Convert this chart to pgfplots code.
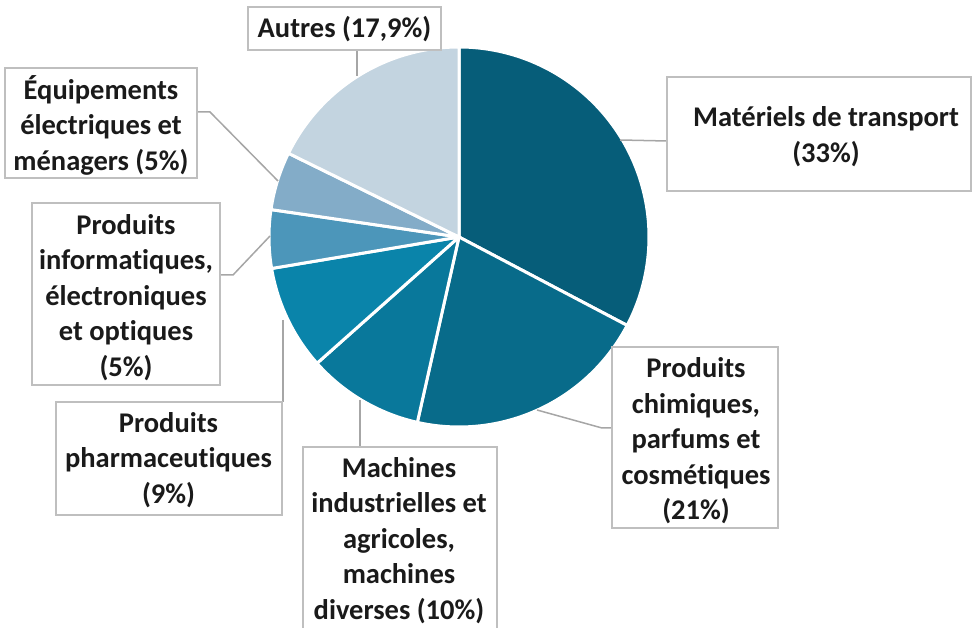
\documentclass[border=0pt]{standalone}
\usepackage{pgfplots}
\pgfplotsset{compat=1.18}
\usepackage{pgfplotstable}
\usepackage{fontspec}
\setmainfont{Carlito}[Ligatures={NoCommon,NoContextual}]
\definecolor{cA}{HTML}{065D79}
\definecolor{cB}{HTML}{086B8A}
\definecolor{cC}{HTML}{09789B}
\definecolor{cD}{HTML}{0A84AA}
\definecolor{cE}{HTML}{4C96BA}
\definecolor{cF}{HTML}{83ACC8}
\definecolor{cG}{HTML}{C3D4E0}
\definecolor{boxgray}{HTML}{BFBFBF}
\definecolor{leadgray}{HTML}{A6A6A6}
\definecolor{txt}{HTML}{1A1A1A}

\pgfplotstableread{
share
33
21
10
9
5
5
17.9
}\sharetable

\newcommand\getv[2]{\pgfplotstablegetelem{#1}{share}\of\sharetable\pgfmathsetmacro#2{\pgfplotsretval}}

\begin{document}
\begin{tikzpicture}
\getv{0}\vA \getv{1}\vB \getv{2}\vC \getv{3}\vD \getv{4}\vE \getv{5}\vF \getv{6}\vG
\pgfmathsetmacro\tot{\vA+\vB+\vC+\vD+\vE+\vF+\vG}
\pgfmathsetmacro\aA{90}
\pgfmathsetmacro\aB{\aA-360*\vA/\tot}
\pgfmathsetmacro\aC{\aB-360*\vB/\tot}
\pgfmathsetmacro\aD{\aC-360*\vC/\tot}
\pgfmathsetmacro\aE{\aD-360*\vD/\tot}
\pgfmathsetmacro\aF{\aE-360*\vE/\tot}
\pgfmathsetmacro\aG{\aF-360*\vF/\tot}
\pgfmathsetmacro\aH{\aG-360*\vG/\tot}
\begin{axis}[x=1pt, y=1pt, xmin=0, xmax=972, ymin=0, ymax=627,
  scale only axis, hide axis, clip=false,
  every axis plot/.append style={draw=white, line width=3pt, line join=round, samples=80, variable=\t, mark=none}]
\addplot[fill=cA, domain=\aB:\aA] ({459+190*cos(\t)},{390+190*sin(\t)}) -- (459,390) -- cycle;
\addplot[fill=cB, domain=\aC:\aB] ({459+190*cos(\t)},{390+190*sin(\t)}) -- (459,390) -- cycle;
\addplot[fill=cC, domain=\aD:\aC] ({459+190*cos(\t)},{390+190*sin(\t)}) -- (459,390) -- cycle;
\addplot[fill=cD, domain=\aE:\aD] ({459+190*cos(\t)},{390+190*sin(\t)}) -- (459,390) -- cycle;
\addplot[fill=cE, domain=\aF:\aE] ({459+190*cos(\t)},{390+190*sin(\t)}) -- (459,390) -- cycle;
\addplot[fill=cF, domain=\aG:\aF] ({459+190*cos(\t)},{390+190*sin(\t)}) -- (459,390) -- cycle;
\addplot[fill=cG, domain=\aH:\aG] ({459+190*cos(\t)},{390+190*sin(\t)}) -- (459,390) -- cycle;

% leader lines
\draw[leadgray, line width=1.5pt] (357,577) -- (357,551);
\draw[leadgray, line width=1.5pt] (620,487) -- (667,486);
\draw[leadgray, line width=1.5pt] (537,217) -- (602,199) -- (612,199);
\draw[leadgray, line width=1.5pt] (360,227) -- (360,180);
\draw[leadgray, line width=1.5pt] (283,307) -- (283,225);
\draw[leadgray, line width=1.5pt] (270,391) -- (233,352) -- (220,352);
\draw[leadgray, line width=1.5pt] (278,446) -- (210,515) -- (197,515);

% boxes
\draw[boxgray, line width=1.8pt, fill=white] (248,577) rectangle (441,620);
\draw[boxgray, line width=1.8pt, fill=white] (667,436) rectangle (971,550);
\draw[boxgray, line width=1.8pt, fill=white] (612,99) rectangle (778,280);
\draw[boxgray, line width=1.8pt, fill=white] (303,-10) rectangle (497,180);
\draw[boxgray, line width=1.8pt, fill=white] (56,112) rectangle (282,225);
\draw[boxgray, line width=1.8pt, fill=white] (32,242) rectangle (220,424);
\draw[boxgray, line width=1.8pt, fill=white] (5,449) rectangle (197,559);

\tikzset{lab/.style={align=center, inner sep=0pt, text=txt, font=\fontsize{28.5}{35.5}\selectfont\bfseries}}
\node[lab] at (344.5,598) {Autres (17,9\%)};
\node[lab] at (826,490.5) {Matériels de transport\\(33\%)};
\node[lab] at (696,186) {Produits\\chimiques,\\parfums et\\cosmétiques\\(21\%)};
\node[lab] at (399,86.5) {Machines\\industrielles et\\agricoles,\\machines\\diverses (10\%)};
\node[lab] at (168.5,167) {Produits\\pharmaceutiques\\(9\%)};
\node[lab] at (126,329.5) {Produits\\informatiques,\\électroniques\\et optiques\\(5\%)};
\node[lab] at (101,502) {Équipements\\électriques et\\ménagers (5\%)};
\end{axis}
\pgfresetboundingbox
\path (0,0) rectangle (972pt,627pt);
\end{tikzpicture}
\end{document}
